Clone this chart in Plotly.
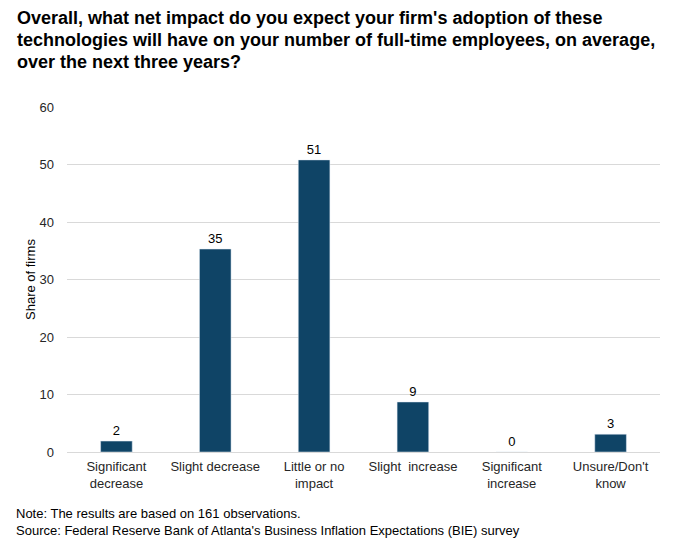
import plotly.graph_objects as go

categories = ["Significant<br>decrease", "Slight decrease", "Little or no<br>impact",
              "Slight  increase", "Significant<br>increase", "Unsure/Don't<br>know"]
values = [1.9, 35.3, 50.8, 8.7, 0.0, 3.1]
labels = ["2", "35", "51", "9", "0", "3"]
y_ticks = [0, 10, 20, 30, 40, 50, 60]
title_lines = [
    "Overall, what net impact do you expect your firm's adoption of these",
    "technologies will have on your number of full-time employees, on average,",
    "over the next three years?",
]

FONT = "Arial, Liberation Sans, sans-serif"
W, H = 681, 549
ML, MR, MT, MB = 67, 21, 107, 97
PH = H - MT - MB
PW = W - ML - MR


def py(p):
    return (H - MB - p) / PH


def px(p):
    return (p - ML) / PW


fig = go.Figure(go.Bar(
    x=categories, y=values, text=labels, textposition="outside",
    textfont=dict(size=13, color="#000000", family=FONT),
    marker=dict(color="#0f4466"), cliponaxis=False, width=0.32,
))

fig.update_layout(
    width=W, height=H,
    margin=dict(l=ML, r=MR, t=MT, b=MB),
    plot_bgcolor="white", paper_bgcolor="white",
    font=dict(family=FONT, size=13, color="#262626"),
    showlegend=False,
    yaxis=dict(
        range=[0, 60], tickvals=y_ticks, showgrid=True, gridcolor="#d9d9d9",
        gridwidth=1, zeroline=True, zerolinecolor="#d9d9d9", zerolinewidth=1,
        showline=False, ticks="", ticklen=0, ticklabelstandoff=12,
        tickfont=dict(size=13, color="#262626"),
    ),
    xaxis=dict(
        showline=False, ticks="", showgrid=False, ticklabelstandoff=5,
        tickfont=dict(size=13, color="#262626"),
    ),
)

fig.add_annotation(
    text="Share of firms", textangle=-90,
    x=px(30), xref="paper", xanchor="center",
    y=py(280), yref="paper", yanchor="middle",
    showarrow=False, font=dict(size=13, color="#000000", family=FONT),
)

for i, line in enumerate(title_lines):
    fig.add_annotation(
        text="<b>" + line + "</b>",
        x=px(15), xref="paper", xanchor="left",
        y=py(18 + 22 * i), yref="paper", yanchor="middle",
        showarrow=False, align="left",
        font=dict(size=18, color="#000000", family=FONT),
    )

fig.add_annotation(
    text="Note: The results are based on 161 observations.<br>"
         "Source: Federal Reserve Bank of Atlanta's Business Inflation Expectations (BIE) survey",
    x=px(14), xref="paper", xanchor="left",
    y=py(504), yref="paper", yanchor="top",
    showarrow=False, align="left",
    font=dict(size=13, color="#000000", family=FONT),
)

fig.write_html("out.html")
